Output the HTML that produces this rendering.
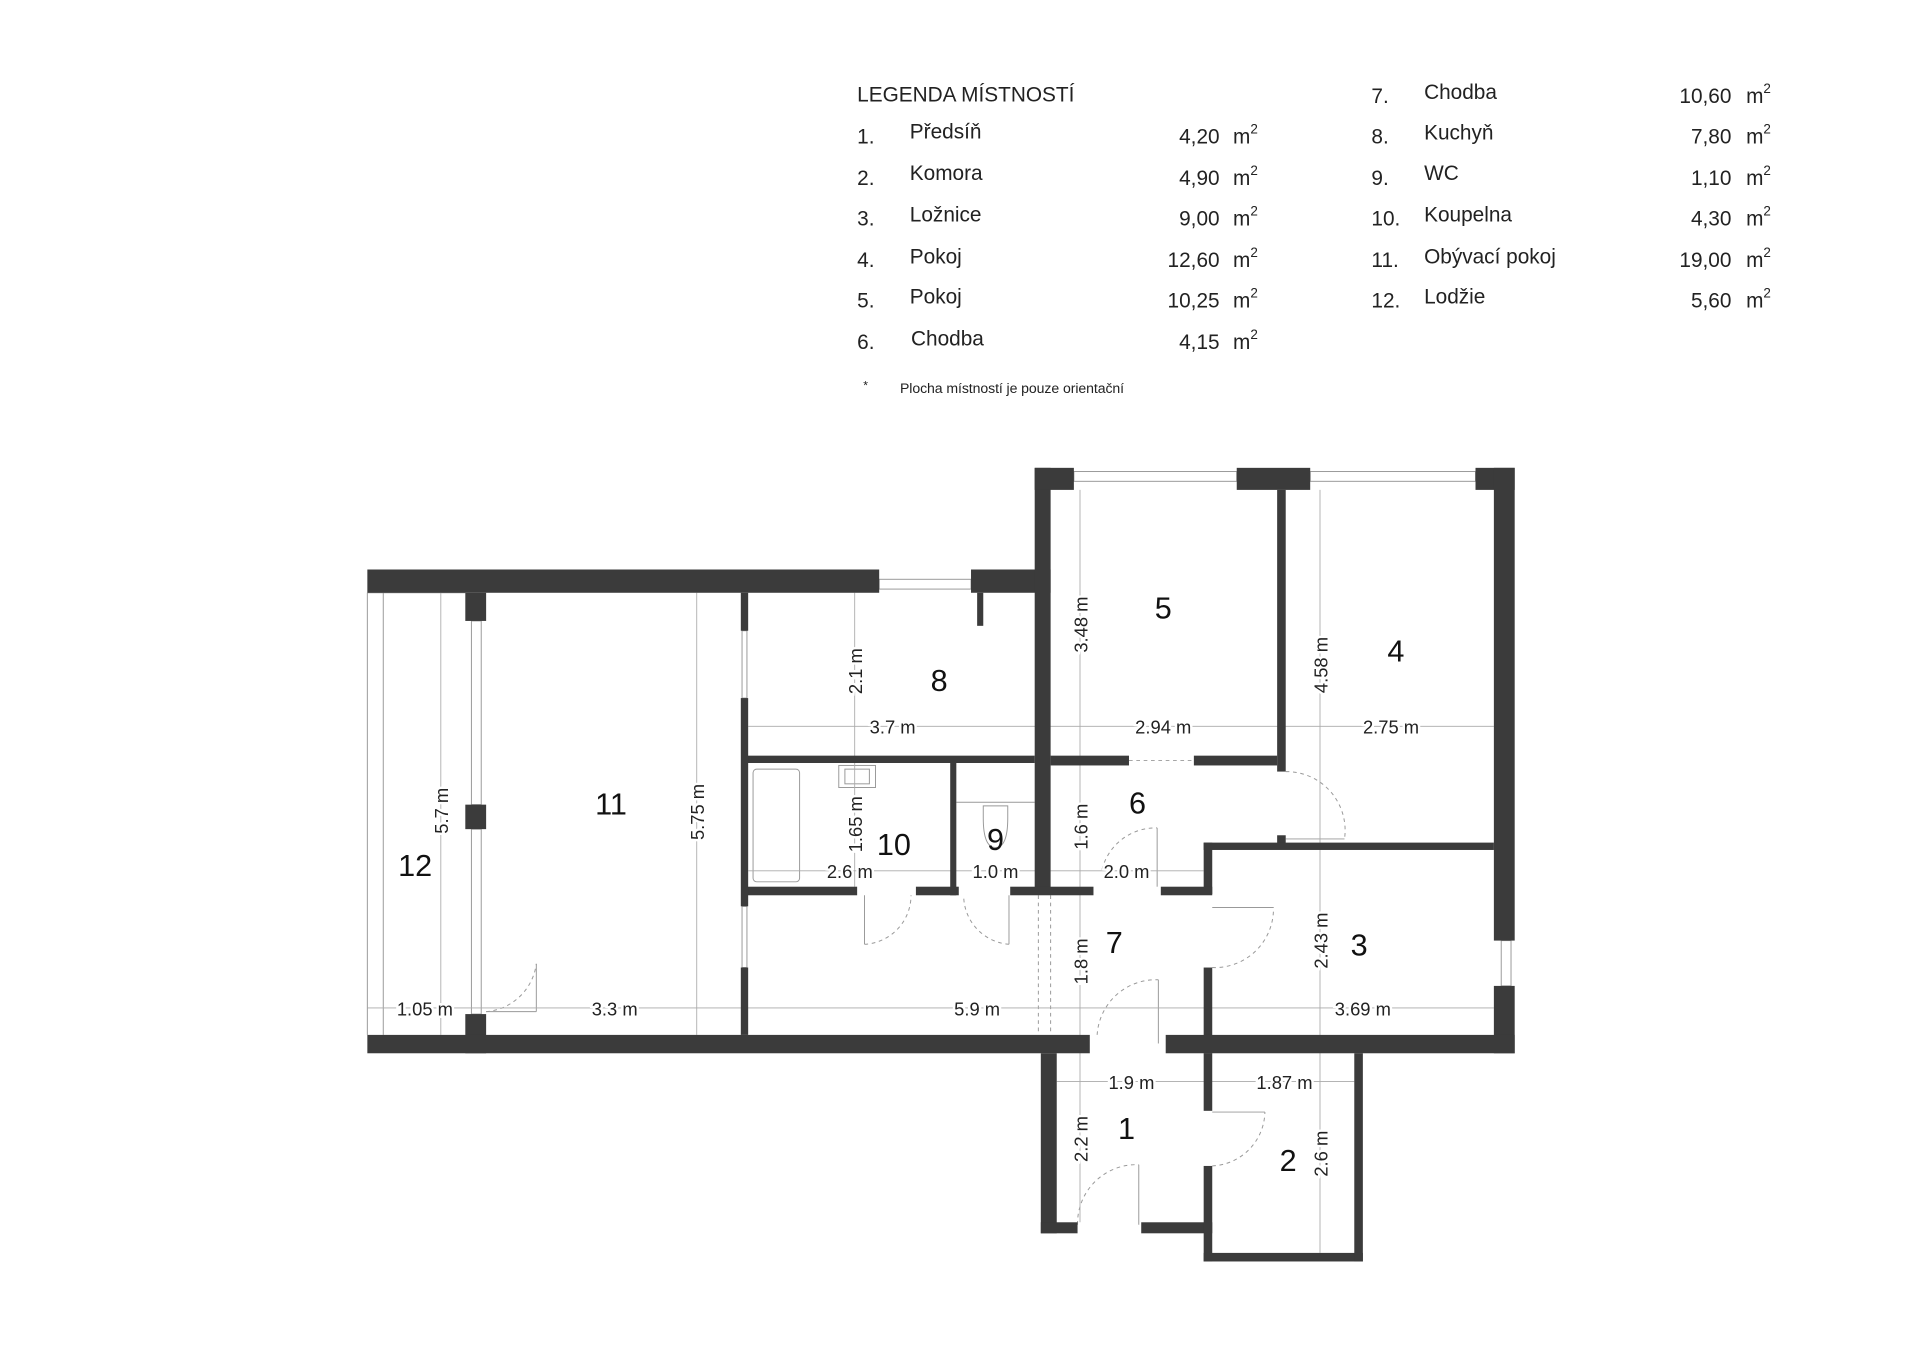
<!DOCTYPE html>
<html><head><meta charset="utf-8"><style>html,body{margin:0;padding:0;background:#fff}svg{display:block}</style></head><body>
<svg width="1920" height="1357" viewBox="0 0 1568 1108" preserveAspectRatio="none" xmlns="http://www.w3.org/2000/svg" font-family="Liberation Sans, sans-serif">
<rect width="1568" height="1108" fill="#fff"/>
<!-- legend -->
<g fill="#222" font-size="17">
<text x="700" y="83">LEGENDA MÍSTNOSTÍ</text>
<g>
<text x="700" y="117">1.</text><text x="743" y="113">Předsíň</text><text x="996" y="117" text-anchor="end">4,20</text><text x="1007" y="117">m<tspan font-size="11" dy="-8">2</tspan></text>
<text x="700" y="151">2.</text><text x="743" y="147">Komora</text><text x="996" y="151" text-anchor="end">4,90</text><text x="1007" y="151">m<tspan font-size="11" dy="-8">2</tspan></text>
<text x="700" y="184">3.</text><text x="743" y="181">Ložnice</text><text x="996" y="184" text-anchor="end">9,00</text><text x="1007" y="184">m<tspan font-size="11" dy="-8">2</tspan></text>
<text x="700" y="218">4.</text><text x="743" y="215">Pokoj</text><text x="996" y="218" text-anchor="end">12,60</text><text x="1007" y="218">m<tspan font-size="11" dy="-8">2</tspan></text>
<text x="700" y="251">5.</text><text x="743" y="248">Pokoj</text><text x="996" y="251" text-anchor="end">10,25</text><text x="1007" y="251">m<tspan font-size="11" dy="-8">2</tspan></text>
<text x="700" y="285">6.</text><text x="744" y="282">Chodba</text><text x="996" y="285" text-anchor="end">4,15</text><text x="1007" y="285">m<tspan font-size="11" dy="-8">2</tspan></text>
</g>
<g>
<text x="1120" y="84">7.</text><text x="1163" y="81">Chodba</text><text x="1414" y="84" text-anchor="end">10,60</text><text x="1426" y="84">m<tspan font-size="11" dy="-8">2</tspan></text>
<text x="1120" y="117">8.</text><text x="1163" y="114">Kuchyň</text><text x="1414" y="117" text-anchor="end">7,80</text><text x="1426" y="117">m<tspan font-size="11" dy="-8">2</tspan></text>
<text x="1120" y="151">9.</text><text x="1163" y="147">WC</text><text x="1414" y="151" text-anchor="end">1,10</text><text x="1426" y="151">m<tspan font-size="11" dy="-8">2</tspan></text>
<text x="1120" y="184">10.</text><text x="1163" y="181">Koupelna</text><text x="1414" y="184" text-anchor="end">4,30</text><text x="1426" y="184">m<tspan font-size="11" dy="-8">2</tspan></text>
<text x="1120" y="218">11.</text><text x="1163" y="215">Obývací pokoj</text><text x="1414" y="218" text-anchor="end">19,00</text><text x="1426" y="218">m<tspan font-size="11" dy="-8">2</tspan></text>
<text x="1120" y="251">12.</text><text x="1163" y="248">Lodžie</text><text x="1414" y="251" text-anchor="end">5,60</text><text x="1426" y="251">m<tspan font-size="11" dy="-8">2</tspan></text>
</g>
<text x="705" y="318" font-size="10">*</text>
<text x="735" y="321" font-size="11.5" textLength="183">Plocha místností je pouze orientační</text>
</g>

<!-- thin lines: windows, loggia -->
<g stroke="#999" stroke-width="0.8" fill="none">
<line x1="300" y1="484" x2="300" y2="845"/><line x1="313" y1="484" x2="313" y2="845"/>
<line x1="300" y1="484" x2="380" y2="484"/>
<rect x="718" y="473" width="75" height="8"/>
<rect x="877" y="385" width="133" height="8"/>
<rect x="1070" y="385" width="135" height="8"/>
<rect x="1226" y="768" width="8" height="37"/>
<rect x="385" y="507" width="8" height="150"/><rect x="385" y="677" width="8" height="151"/>
<rect x="606" y="515" width="4" height="55"/><rect x="606" y="740" width="4" height="50"/>
<g stroke-dasharray="3,3">
<path d="M397 826 A45 45 0 0 0 438 787"/>
<path d="M706 771 A40 40 0 0 0 744 731"/>
<path d="M824 771 A40 40 0 0 1 787 731"/>
<path d="M900 710 A45 45 0 0 1 945 676"/>
<path d="M896 845 A48 48 0 0 1 946 800"/>
<path d="M990 790 A48 48 0 0 0 1040 741"/>
<path d="M1050 630 A48 48 0 0 1 1098 685"/>
<path d="M990 952 A45 45 0 0 0 1033 908"/>
<path d="M880 1000 A48 48 0 0 1 930 951"/>
<line x1="922" y1="621" x2="975" y2="621"/>
<line x1="848" y1="731" x2="848" y2="845"/><line x1="858" y1="731" x2="858" y2="845"/>
</g>
<line x1="438" y1="787" x2="438" y2="826"/><line x1="397" y1="826" x2="438" y2="826"/>
<line x1="706" y1="731" x2="706" y2="771"/><line x1="824" y1="731" x2="824" y2="771"/>
<line x1="945" y1="676" x2="945" y2="724"/><line x1="946" y1="800" x2="946" y2="852"/>
<line x1="990" y1="741" x2="1040" y2="741"/><line x1="1050" y1="685" x2="1098" y2="685"/>
<line x1="990" y1="908" x2="1033" y2="908"/><line x1="930" y1="951" x2="930" y2="1000"/>
<rect x="615" y="628" width="38" height="92" rx="3"/>
<rect x="685" y="625" width="30" height="18"/><rect x="690" y="628" width="20" height="12"/>
<path d="M803 658 h20 v10 q0 24 -10 24 q-10 0 -10 -24z"/>
<line x1="781" y1="655" x2="845" y2="655"/>
</g>

<!-- dimension lines -->
<g stroke="#aaa" stroke-width="0.7">
<line x1="300" y1="823" x2="1220" y2="823"/>
<line x1="611" y1="593" x2="1220" y2="593"/>
<line x1="611" y1="711" x2="983" y2="711"/>
<line x1="863" y1="883" x2="1106" y2="883"/>
<line x1="360" y1="484" x2="360" y2="845"/>
<line x1="569" y1="484" x2="569" y2="845"/>
<line x1="698" y1="484" x2="698" y2="724"/>
<line x1="882" y1="400" x2="882" y2="998"/>
<line x1="1078" y1="400" x2="1078" y2="1023"/>
</g>
<g font-size="15" fill="#222" stroke="#fff" stroke-width="4" paint-order="stroke" text-anchor="middle">
<text x="347" y="829">1.05 m</text><text x="502" y="829">3.3 m</text><text x="798" y="829">5.9 m</text><text x="1113" y="829">3.69 m</text>
<text x="729" y="599">3.7 m</text><text x="950" y="599">2.94 m</text><text x="1136" y="599">2.75 m</text>
<text x="694" y="717">2.6 m</text><text x="813" y="717">1.0 m</text><text x="920" y="717">2.0 m</text>
<text x="924" y="889">1.9 m</text><text x="1049" y="889">1.87 m</text>
<text transform="translate(366,662) rotate(-90)">5.7 m</text>
<text transform="translate(575,663) rotate(-90)">5.75 m</text>
<text transform="translate(704,548) rotate(-90)">2.1 m</text>
<text transform="translate(704,673) rotate(-90)">1.65 m</text>
<text transform="translate(888,510) rotate(-90)">3.48 m</text>
<text transform="translate(888,675) rotate(-90)">1.6 m</text>
<text transform="translate(888,785) rotate(-90)">1.8 m</text>
<text transform="translate(888,930) rotate(-90)">2.2 m</text>
<text transform="translate(1084,543) rotate(-90)">4.58 m</text>
<text transform="translate(1084,768) rotate(-90)">2.43 m</text>
<text transform="translate(1084,942) rotate(-90)">2.6 m</text>
</g>

<!-- walls -->
<g fill="#3b3b3b">
<rect x="300" y="465" width="418" height="19"/>
<rect x="793" y="465" width="65" height="19"/>
<rect x="798" y="484" width="5" height="27"/>
<rect x="845" y="382" width="13" height="348"/>
<rect x="845" y="382" width="32" height="18"/>
<rect x="1010" y="382" width="60" height="18"/>
<rect x="1043" y="400" width="7" height="230"/>
<rect x="1043" y="682" width="7" height="8"/>
<rect x="1205" y="382" width="32" height="18"/>
<rect x="1220" y="382" width="17" height="386"/>
<rect x="1220" y="805" width="17" height="55"/>
<rect x="858" y="617" width="64" height="8"/>
<rect x="975" y="617" width="68" height="8"/>
<rect x="607" y="617" width="238" height="6"/>
<rect x="983" y="688" width="237" height="6"/>
<rect x="983" y="688" width="7" height="42"/>
<rect x="983" y="790" width="7" height="70"/>
<rect x="607" y="724" width="93" height="7"/>
<rect x="748" y="724" width="35" height="7"/>
<rect x="825" y="724" width="68" height="7"/>
<rect x="948" y="724" width="42" height="7"/>
<rect x="776" y="623" width="5" height="108"/>
<rect x="605" y="484" width="6" height="31"/>
<rect x="605" y="570" width="6" height="170"/>
<rect x="605" y="790" width="6" height="55"/>
<rect x="380" y="484" width="17" height="23"/>
<rect x="380" y="657" width="17" height="20"/>
<rect x="380" y="828" width="17" height="32"/>
<rect x="300" y="845" width="590" height="15"/>
<rect x="952" y="845" width="285" height="15"/>
<rect x="850" y="860" width="13" height="147"/>
<rect x="850" y="998" width="30" height="9"/>
<rect x="932" y="998" width="58" height="9"/>
<rect x="983" y="860" width="7" height="47"/>
<rect x="983" y="952" width="7" height="78"/>
<rect x="983" y="1023" width="130" height="7"/>
<rect x="1106" y="860" width="7" height="170"/>
</g>

<!-- room numbers -->
<g font-size="25" fill="#111" text-anchor="middle" dominant-baseline="central">
<text x="950" y="497">5</text><text x="1140" y="532">4</text><text x="767" y="556">8</text>
<text x="499" y="657">11</text><text x="339" y="707">12</text><text x="730" y="690">10</text>
<text x="813" y="686">9</text><text x="929" y="656">6</text><text x="910" y="770">7</text>
<text x="1110" y="772">3</text><text x="920" y="922">1</text><text x="1052" y="948">2</text>
</g>
</svg>
</body></html>
